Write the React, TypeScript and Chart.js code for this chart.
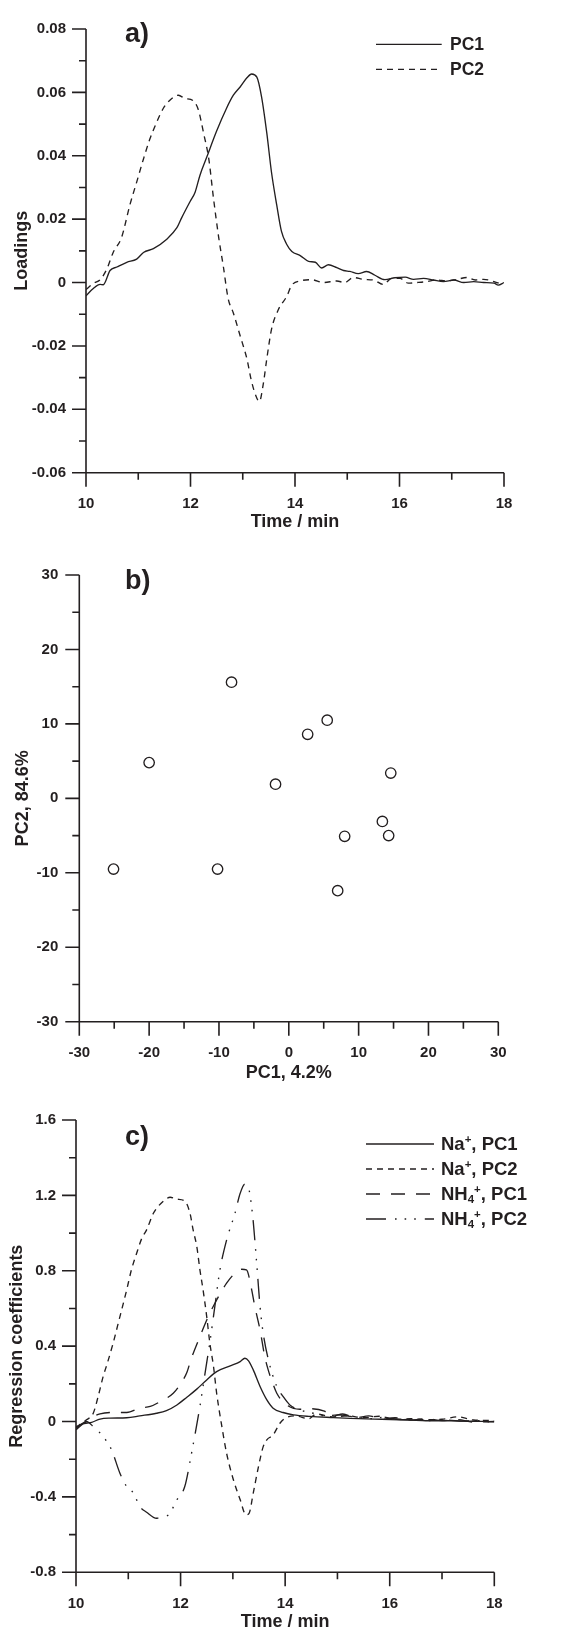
import React, { useEffect, useRef } from 'react';
import { Chart, registerables } from 'chart.js';

Chart.register(...registerables);

const INK = '#231f20';
const FAMILY = "'Liberation Sans', Arial, Helvetica, sans-serif";
const PAGE_W = 565;
const TICK_SIZE = 15;
const TITLE_SIZE = 18;

// ---------------- panel a) loadings ----------------
const timeTicks = [10, 12, 14, 16, 18];
const timeTickLabels = ['10', '12', '14', '16', '18'];
const loadingTicks = [-0.06, -0.04, -0.02, 0, 0.02, 0.04, 0.06, 0.08];
const loadingTickLabels = ['-0.06', '-0.04', '-0.02', '0', '0.02', '0.04', '0.06', '0.08'];
const loadingSeries = ['PC1', 'PC2'];

const pc1Time = [10.00, 10.14, 10.27, 10.33, 10.46, 10.59, 10.78, 10.97, 11.10, 11.29, 11.54, 11.74, 11.83, 11.99, 12.09, 12.18, 12.31, 12.50, 12.69, 12.82, 12.95, 13.08, 13.17, 13.27, 13.36, 13.46, 13.55, 13.65, 13.74, 13.84, 13.94, 14.10, 14.26, 14.39, 14.51, 14.64, 14.80, 14.93, 15.05, 15.21, 15.37, 15.53, 15.72, 15.91, 16.11, 16.27, 16.46, 16.65, 16.84, 17.04, 17.23, 17.42, 17.61, 17.81, 17.89, 18.00];
const pc1Loading = [-0.0042, -0.0019, -0.0006, -0.0007, 0.0038, 0.0049, 0.0064, 0.0074, 0.0095, 0.0107, 0.0136, 0.0173, 0.0204, 0.0255, 0.0286, 0.0338, 0.0395, 0.0478, 0.0550, 0.0591, 0.0617, 0.0646, 0.0658, 0.0648, 0.0586, 0.0472, 0.0348, 0.0245, 0.0162, 0.0121, 0.0098, 0.0085, 0.0067, 0.0064, 0.0046, 0.0056, 0.0047, 0.0038, 0.0035, 0.0028, 0.0035, 0.0023, 0.0009, 0.0015, 0.0017, 0.0010, 0.0013, 0.0008, 0.0003, 0.0008, 0.0000, 0.0003, 0.0000, -0.0002, -0.0008, 0.0000];

const pc2Time = [10.00, 10.14, 10.27, 10.40, 10.52, 10.68, 10.84, 10.97, 11.10, 11.22, 11.32, 11.48, 11.61, 11.77, 11.89, 12.05, 12.15, 12.25, 12.35, 12.44, 12.54, 12.63, 12.72, 12.82, 12.95, 13.08, 13.17, 13.27, 13.32, 13.39, 13.46, 13.55, 13.68, 13.84, 13.94, 14.10, 14.32, 14.54, 14.80, 14.95, 15.12, 15.31, 15.50, 15.69, 15.85, 16.01, 16.17, 16.33, 16.52, 16.71, 16.90, 17.10, 17.29, 17.45, 17.61, 17.81, 17.96];
const pc2Loading = [-0.0022, -0.0003, 0.0009, 0.0043, 0.0095, 0.0142, 0.0245, 0.0317, 0.0390, 0.0452, 0.0493, 0.0550, 0.0576, 0.0591, 0.0581, 0.0574, 0.0545, 0.0472, 0.0390, 0.0266, 0.0142, 0.0049, -0.0050, -0.0096, -0.0168, -0.0241, -0.0313, -0.0365, -0.0375, -0.0323, -0.0241, -0.0148, -0.0086, -0.0044, -0.0008, 0.0005, 0.0009, 0.0000, 0.0005, 0.0000, 0.0016, 0.0010, 0.0008, -0.0006, 0.0013, 0.0013, -0.0002, 0.0000, 0.0003, 0.0008, 0.0005, 0.0010, 0.0016, 0.0008, 0.0010, 0.0003, -0.0006];

// ---------------- panel b) scores ----------------
const scoreTicks = [-30, -20, -10, 0, 10, 20, 30];
const scoreTickLabels = ['-30', '-20', '-10', '0', '10', '20', '30'];
const scoresPC1 = [-8.2, 5.5, 2.7, -20.0, 14.6, -1.9, 13.4, 8.0, 14.3, -25.1, -10.2, 7.0];
const scoresPC2 = [15.6, 10.5, 8.6, 4.8, 3.4, 1.9, -3.1, -5.1, -5.0, -9.5, -9.5, -12.4];

// ---------------- panel c) regression coefficients ----------------
const coefTicks = [-0.8, -0.4, 0, 0.4, 0.8, 1.2, 1.6];
const coefTickLabels = ['-0.8', '-0.4', '0', '0.4', '0.8', '1.2', '1.6'];
const coefSeries = ['Na⁺, PC1', 'Na⁺, PC2', 'NH₄⁺, PC1', 'NH₄⁺, PC2'];

const naPC1Time = [10.00, 10.08, 10.14, 10.22, 10.30, 10.46, 10.65, 10.97, 11.22, 11.54, 11.73, 11.93, 12.12, 12.31, 12.50, 12.69, 12.95, 13.14, 13.23, 13.30, 13.39, 13.52, 13.65, 13.77, 13.96, 14.16, 14.48, 14.92, 15.25, 15.55, 15.85, 16.19, 16.50, 16.83, 17.15, 17.46, 17.75, 18.00];
const naPC1Coef = [-0.027, -0.018, -0.011, -0.008, -0.004, 0.013, 0.018, 0.020, 0.030, 0.044, 0.058, 0.088, 0.129, 0.172, 0.221, 0.265, 0.295, 0.318, 0.336, 0.322, 0.274, 0.186, 0.115, 0.071, 0.048, 0.035, 0.027, 0.021, 0.017, 0.014, 0.012, 0.009, 0.007, 0.004, 0.004, 0.002, 0.001, -0.001];

const naPC2Time = [10.00, 10.10, 10.20, 10.33, 10.43, 10.52, 10.60, 10.71, 10.84, 10.97, 11.06, 11.16, 11.26, 11.35, 11.48, 11.57, 11.70, 11.80, 11.93, 12.08, 12.18, 12.24, 12.31, 12.37, 12.43, 12.50, 12.56, 12.63, 12.69, 12.79, 12.88, 13.01, 13.14, 13.25, 13.31, 13.39, 13.49, 13.58, 13.65, 13.77, 13.90, 14.00, 14.20, 14.45, 14.60, 14.90, 15.20, 15.50, 15.80, 16.10, 16.40, 16.70, 17.00, 17.30, 17.60, 18.00];
const naPC2Coef = [-0.035, -0.010, 0.009, 0.044, 0.140, 0.240, 0.310, 0.416, 0.557, 0.699, 0.805, 0.893, 0.973, 1.017, 1.105, 1.141, 1.176, 1.190, 1.180, 1.170, 1.105, 1.017, 0.929, 0.805, 0.699, 0.557, 0.416, 0.292, 0.150, -0.027, -0.168, -0.309, -0.415, -0.495, -0.487, -0.380, -0.239, -0.133, -0.097, -0.071, -0.009, 0.018, 0.030, 0.015, 0.040, 0.025, 0.030, 0.020, 0.028, 0.012, 0.015, 0.010, 0.012, 0.025, 0.008, 0.005];

const nhPC1Time = [10.00, 10.10, 10.20, 10.33, 10.46, 10.71, 10.97, 11.22, 11.42, 11.61, 11.86, 12.00, 12.12, 12.20, 12.37, 12.53, 12.69, 12.88, 13.04, 13.17, 13.26, 13.36, 13.42, 13.52, 13.61, 13.68, 13.74, 13.84, 14.03, 14.28, 14.50, 14.75, 14.90, 15.10, 15.35, 15.60, 15.85, 16.10, 16.40, 16.70, 17.00, 17.30, 17.60, 18.00];
const nhPC1Coef = [-0.044, -0.020, 0.000, 0.025, 0.041, 0.048, 0.048, 0.071, 0.080, 0.106, 0.150, 0.200, 0.260, 0.330, 0.451, 0.557, 0.645, 0.734, 0.787, 0.808, 0.805, 0.699, 0.610, 0.486, 0.345, 0.270, 0.221, 0.150, 0.088, 0.065, 0.068, 0.055, 0.027, 0.040, 0.020, 0.030, 0.012, 0.020, 0.008, 0.015, 0.005, 0.010, -0.003, 0.000];

const nhPC2Time = [10.00, 10.10, 10.20, 10.33, 10.52, 10.68, 10.84, 10.97, 11.10, 11.22, 11.35, 11.54, 11.77, 11.93, 12.08, 12.21, 12.37, 12.47, 12.56, 12.66, 12.75, 12.88, 13.04, 13.14, 13.23, 13.31, 13.38, 13.42, 13.47, 13.52, 13.58, 13.68, 13.84, 13.96, 14.09, 14.28, 14.54, 14.80, 15.00, 15.30, 15.60, 15.90, 16.20, 16.50, 16.80, 17.10, 17.40, 17.70, 18.00];
const nhPC2Coef = [-0.035, -0.015, 0.000, -0.027, -0.080, -0.150, -0.274, -0.345, -0.380, -0.451, -0.481, -0.513, -0.495, -0.415, -0.345, -0.168, 0.080, 0.260, 0.420, 0.620, 0.800, 0.963, 1.105, 1.211, 1.260, 1.229, 1.088, 0.963, 0.787, 0.610, 0.469, 0.327, 0.186, 0.133, 0.088, 0.062, 0.044, 0.030, 0.035, 0.025, 0.015, 0.022, 0.010, 0.012, 0.005, 0.008, 0.002, 0.004, -0.005];

// ---------------- helpers ----------------
const pts = (xs: number[], ys: number[]) =>
  xs.slice(0, Math.min(xs.length, ys.length)).map((x, i) => ({ x, y: ys[i] }));

const DASH_SHORT = [6, 5];
const DASH_LONG = [14, 11];
const DASH_DOTS = [20, 9, 1.6, 8, 1.6, 8, 1.6, 9];

function lineSet(label: string, xs: number[], ys: number[], dash: number[]) {
  return {
    label,
    data: pts(xs, ys),
    borderColor: INK,
    borderWidth: 1.35,
    borderDash: dash,
    borderCapStyle: 'butt',
    pointRadius: 0,
    fill: false,
    cubicInterpolationMode: 'monotone',
  };
}

function drawRich(ctx: CanvasRenderingContext2D, text: string, x: number, y: number, size: number) {
  let cx = x;
  let run = '';
  const flush = () => {
    if (!run) return;
    ctx.font = `bold ${size}px ${FAMILY}`;
    ctx.fillText(run, cx, y);
    cx += ctx.measureText(run).width;
    run = '';
  };
  for (const ch of text) {
    if (ch === '⁺' || ch === '₄') {
      flush();
      const small = size * 0.62;
      ctx.font = `bold ${small}px ${FAMILY}`;
      const g = ch === '⁺' ? '+' : '4';
      const dy = ch === '⁺' ? -size * 0.3 : size * 0.24;
      ctx.fillText(g, cx, y + dy);
      cx += ctx.measureText(g).width;
    } else {
      run += ch;
    }
  }
  flush();
}

const axesPlugin = {
  id: 'paperAxes',
  afterDraw(chart: any) {
    const { ctx, chartArea: a } = chart;
    const xs = chart.scales.x;
    const ys = chart.scales.y;
    ctx.save();
    ctx.strokeStyle = INK;
    ctx.lineWidth = 1.6;
    ctx.setLineDash([]);
    ctx.lineJoin = 'miter';
    ctx.beginPath();
    ctx.moveTo(a.left, a.top);
    ctx.lineTo(a.left, a.bottom);
    ctx.lineTo(a.right, a.bottom);
    const major = 14;
    const minor = 7;
    const xv = xs.ticks.map((t: any) => t.value);
    xv.forEach((v: number, i: number) => {
      const p = xs.getPixelForValue(v);
      ctx.moveTo(p, a.bottom);
      ctx.lineTo(p, a.bottom + major);
      if (i < xv.length - 1) {
        const m = xs.getPixelForValue((v + xv[i + 1]) / 2);
        ctx.moveTo(m, a.bottom);
        ctx.lineTo(m, a.bottom + minor);
      }
    });
    const yv = ys.ticks.map((t: any) => t.value);
    yv.forEach((v: number, i: number) => {
      const p = ys.getPixelForValue(v);
      ctx.moveTo(a.left, p);
      ctx.lineTo(a.left - major, p);
      if (i < yv.length - 1) {
        const m = ys.getPixelForValue((v + yv[i + 1]) / 2);
        ctx.moveTo(a.left, m);
        ctx.lineTo(a.left - minor, m);
      }
    });
    ctx.stroke();
    ctx.restore();
  },
};

const decorPlugin = {
  id: 'decor',
  afterDraw(chart: any, _args: any, opts: any) {
    const { ctx } = chart;
    ctx.save();
    ctx.fillStyle = INK;
    if (opts.panel) {
      ctx.font = `bold 27px ${FAMILY}`;
      ctx.textAlign = 'left';
      ctx.textBaseline = 'alphabetic';
      ctx.fillText(opts.panel.text, opts.panel.x, opts.panel.y);
    }
    if (opts.legend) {
      const L = opts.legend;
      ctx.textAlign = 'left';
      ctx.textBaseline = 'middle';
      chart.data.datasets.forEach((ds: any, i: number) => {
        const y = L.y + i * L.dy;
        ctx.strokeStyle = INK;
        ctx.lineWidth = 1.35;
        ctx.setLineDash(ds.borderDash || []);
        ctx.beginPath();
        ctx.moveTo(L.x1, y);
        ctx.lineTo(L.x2, y);
        ctx.stroke();
        ctx.setLineDash([]);
        drawRich(ctx, ds.label, L.textX, y + 1, L.size);
      });
    }
    ctx.restore();
  },
};

type Layout = {
  H: number;
  area: { left: number; top: number; right: number; bottom: number };
  xLabelOffset: number;
  yLabelGap: number;
  xTitleCentre: number;
  yTitleCentre: number;
};

function axis(values: number[], labels: string[], title: string, extra: any) {
  return {
    type: 'linear',
    min: values[0],
    max: values[values.length - 1],
    afterBuildTicks: (s: any) => {
      s.ticks = values.map((v) => ({ value: v }));
    },
    grid: { display: false, drawTicks: false, drawOnChartArea: false },
    border: { display: false },
    ticks: {
      autoSkip: false,
      maxRotation: 0,
      minRotation: 0,
      color: INK,
      font: { family: FAMILY, size: TICK_SIZE, weight: 'bold' },
      callback: (_v: any, i: number) => labels[i],
      ...extra.ticks,
    },
    title: {
      display: true,
      text: title,
      color: INK,
      font: { family: FAMILY, size: TITLE_SIZE, weight: 'bold' },
      ...extra.title,
    },
    afterFit: extra.afterFit,
  };
}

function makeOptions(lay: Layout, xAxis: [number[], string[], string], yAxis: [number[], string[], string], decor: any) {
  const { H, area } = lay;
  const tickHalf = TICK_SIZE * 0.6;
  const titleHalf = TITLE_SIZE * 0.6;
  return {
    responsive: false,
    animation: false,
    devicePixelRatio: 1,
    events: [],
    layout: { padding: { left: 0, top: area.top, right: PAGE_W - area.right, bottom: 0 } },
    plugins: {
      legend: { display: false },
      tooltip: { enabled: false },
      decor,
    },
    scales: {
      x: axis(xAxis[0], xAxis[1], xAxis[2], {
        ticks: { padding: lay.xLabelOffset - tickHalf },
        title: { padding: { top: 0, bottom: H - lay.xTitleCentre - titleHalf } },
        afterFit: (s: any) => {
          s.height = H - area.bottom;
        },
      }),
      y: axis(yAxis[0], yAxis[1], yAxis[2], {
        ticks: { padding: lay.yLabelGap },
        title: { padding: { top: lay.yTitleCentre - titleHalf, bottom: 0 } },
        afterFit: (s: any) => {
          s.width = area.left;
        },
      }),
    },
  };
}

// ---------------- chart configs ----------------
const layoutA: Layout = {
  H: 545,
  area: { left: 86, top: 21.3, right: 504, bottom: 472.7 },
  xLabelOffset: 31,
  yLabelGap: 20,
  xTitleCentre: 522,
  yTitleCentre: 22.5,
};
const layoutB: Layout = {
  H: 540,
  area: { left: 79.3, top: 24.3, right: 498.3, bottom: 476.7 },
  xLabelOffset: 31,
  yLabelGap: 21,
  xTitleCentre: 528,
  yTitleCentre: 23,
};
const layoutC: Layout = {
  H: 560,
  area: { left: 76, top: 35, right: 494.3, bottom: 487.3 },
  xLabelOffset: 32,
  yLabelGap: 20,
  xTitleCentre: 537,
  yTitleCentre: 17,
};

const configA = () => ({
  type: 'line',
  data: {
    datasets: [
      lineSet(loadingSeries[0], pc1Time, pc1Loading, []),
      lineSet(loadingSeries[1], pc2Time, pc2Loading, DASH_SHORT),
    ],
  },
  options: makeOptions(layoutA, [timeTicks, timeTickLabels, 'Time / min'], [loadingTicks, loadingTickLabels, 'Loadings'], {
    panel: { text: 'a)', x: 125, y: 42 },
    legend: { x1: 376, x2: 441.7, textX: 450, y: 44.3, dy: 25, size: 17.5 },
  }),
  plugins: [axesPlugin, decorPlugin],
});

const configB = () => ({
  type: 'scatter',
  data: {
    datasets: [
      {
        label: 'scores',
        data: pts(scoresPC1, scoresPC2),
        pointRadius: 5.2,
        pointBorderWidth: 1.35,
        borderColor: INK,
        pointBorderColor: INK,
        backgroundColor: 'rgba(0,0,0,0)',
        pointBackgroundColor: 'rgba(0,0,0,0)',
      },
    ],
  },
  options: makeOptions(layoutB, [scoreTicks, scoreTickLabels, 'PC1, 4.2%'], [scoreTicks, scoreTickLabels, 'PC2, 84.6%'], {
    panel: { text: 'b)', x: 125, y: 44 },
  }),
  plugins: [axesPlugin, decorPlugin],
});

const configC = () => ({
  type: 'line',
  data: {
    datasets: [
      lineSet(coefSeries[0], naPC1Time, naPC1Coef, []),
      lineSet(coefSeries[1], naPC2Time, naPC2Coef, DASH_SHORT),
      lineSet(coefSeries[2], nhPC1Time, nhPC1Coef, DASH_LONG),
      lineSet(coefSeries[3], nhPC2Time, nhPC2Coef, DASH_DOTS),
    ],
  },
  options: makeOptions(layoutC, [timeTicks, timeTickLabels, 'Time / min'], [coefTicks, coefTickLabels, 'Regression coefficients'], {
    panel: { text: 'c)', x: 125, y: 60 },
    legend: { x1: 366, x2: 434, textX: 441, y: 59, dy: 25, size: 18.5 },
  }),
  plugins: [axesPlugin, decorPlugin],
});

function Panel({ top, height, make }: { top: number; height: number; make: () => any }) {
  const ref = useRef<HTMLCanvasElement>(null);
  useEffect(() => {
    const chart = new Chart(ref.current as HTMLCanvasElement, make() as any);
    return () => chart.destroy();
  }, []);
  return (
    <canvas
      ref={ref}
      width={PAGE_W}
      height={height}
      style={{ position: 'absolute', left: 0, top, width: PAGE_W, height, display: 'block' }}
    />
  );
}

export default function App() {
  return (
    <div
      style={{
        position: 'absolute',
        left: 0,
        top: 0,
        width: PAGE_W,
        height: 1630,
        overflow: 'hidden',
        background: '#ffffff',
      }}
    >
      <Panel top={0} height={layoutA.H} make={configA} />
      <Panel top={545} height={layoutB.H} make={configB} />
      <Panel top={1085} height={layoutC.H} make={configC} />
    </div>
  );
}
